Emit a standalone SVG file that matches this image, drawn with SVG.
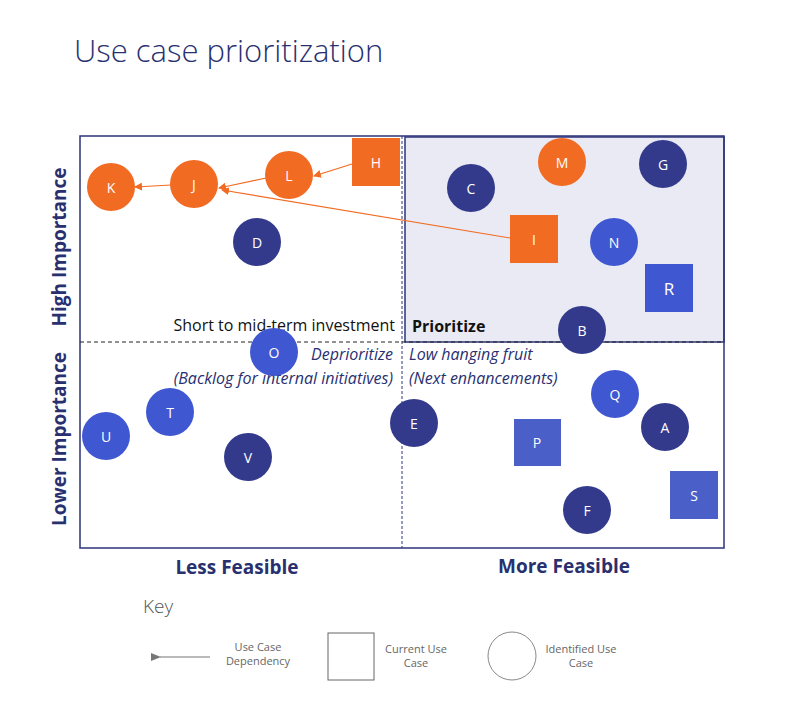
<svg xmlns="http://www.w3.org/2000/svg" width="787" height="720" viewBox="0 0 787 720">
<style>
text{font-family:"Segoe UI","Open Sans","Liberation Sans",sans-serif}
.n{fill:#fff;font-size:14px;text-anchor:middle;dominant-baseline:central}
.or{fill:#F26B23}.nv{fill:#333A8C}.bl{fill:#3F57D0}.sq{fill:#4A60C8}
.ax{font-weight:bold;font-size:19px;fill:#283070;text-anchor:middle}
.it{font-style:italic;font-size:16px;fill:#283070}
.k{font-size:11px;fill:#666;text-anchor:middle}
</style>
<defs>
<marker id="ao" markerWidth="8" markerHeight="8" refX="7" refY="4" orient="auto" markerUnits="userSpaceOnUse"><path d="M0,0 L8,4 L0,8z" fill="#F26B23"/></marker>
<marker id="ag" markerWidth="10" markerHeight="8" refX="1" refY="4" orient="auto" markerUnits="userSpaceOnUse"><path d="M10,0 L0,4 L10,8z" fill="#777"/></marker>
</defs>
<rect width="787" height="720" fill="#fff"/>
<text x="74" y="62" font-size="31" fill="#283070" style="font-family:'Segoe UI','Open Sans',sans-serif;font-weight:300">Use case prioritization</text>
<rect x="405" y="137" width="319" height="205" fill="#E9EAF3" stroke="#2E3579" stroke-width="1.5"/>
<rect x="80" y="136" width="644" height="412" fill="none" stroke="#2E3579" stroke-width="1.5"/>
<line x1="402" y1="136" x2="402" y2="548" stroke="#2E3579" stroke-dasharray="3,2"/>
<line x1="80" y1="342" x2="724" y2="342" stroke="#222" stroke-dasharray="4,3"/>
<text x="395" y="331" font-size="16" fill="#111" text-anchor="end">Short to mid-term investment</text>
<text x="412" y="332" font-size="16" font-weight="bold" fill="#111">Prioritize</text>
<text class="it" x="393" y="360" text-anchor="end">Deprioritize</text>
<text class="it" x="393" y="384" text-anchor="end">(Backlog for internal initiatives)</text>
<text class="it" x="409" y="360">Low hanging fruit</text>
<text class="it" x="409" y="384">(Next enhancements)</text>
<text class="ax" x="237" y="574">Less Feasible</text>
<text class="ax" x="564" y="573">More Feasible</text>
<text class="ax" transform="translate(66,247) rotate(-90)">High Importance</text>
<text class="ax" transform="translate(66,439) rotate(-90)">Lower Importance</text>
<g id="connectors" stroke="#F26B23" stroke-width="1.2" fill="none">
<line x1="352" y1="164" x2="314" y2="176" marker-end="url(#ao)"/>
<line x1="266" y1="178" x2="219" y2="188" marker-end="url(#ao)"/>
<line x1="171" y1="185" x2="135" y2="187" marker-end="url(#ao)"/>
<line x1="510" y1="238" x2="222" y2="190" marker-end="url(#ao)"/>
</g>
<g id="K"><circle cx="111" cy="187" r="24" class="or"/><text class="n" x="111" y="187">K</text></g>
<g id="J"><circle cx="194" cy="184" r="24" class="or"/><text class="n" x="194" y="184">J</text></g>
<g id="L"><circle cx="289" cy="175" r="24" class="or"/><text class="n" x="289" y="175">L</text></g>
<g id="H"><rect x="352" y="138" width="48" height="48" class="or"/><text class="n" x="376" y="162">H</text></g>
<g id="D"><circle cx="257" cy="242" r="24" class="nv"/><text class="n" x="257" y="242">D</text></g>
<g id="C"><circle cx="471" cy="188" r="24" class="nv"/><text class="n" x="471" y="188">C</text></g>
<g id="M"><circle cx="562" cy="162" r="24" class="or"/><text class="n" x="562" y="162">M</text></g>
<g id="G"><circle cx="663" cy="164" r="24" class="nv"/><text class="n" x="663" y="164">G</text></g>
<g id="I"><rect x="510" y="215" width="48" height="48" class="or"/><text class="n" x="534" y="239">I</text></g>
<g id="N"><circle cx="614" cy="242" r="24" class="bl"/><text class="n" x="614" y="242">N</text></g>
<g id="R"><rect x="645" y="264" width="48" height="48" class="bl"/><text class="n" x="669" y="288" style="font-size:17px">R</text></g>
<g id="B"><circle cx="582" cy="330" r="24" class="nv"/><text class="n" x="582" y="330">B</text></g>
<g id="O"><circle cx="274" cy="352" r="24" class="bl"/><text class="n" x="274" y="352">O</text></g>
<g id="T"><circle cx="170" cy="412" r="24" class="bl"/><text class="n" x="170" y="412">T</text></g>
<g id="U"><circle cx="106" cy="436" r="24" class="bl"/><text class="n" x="106" y="436">U</text></g>
<g id="V"><circle cx="248" cy="457" r="24" class="nv"/><text class="n" x="248" y="457">V</text></g>
<g id="E"><circle cx="414" cy="423" r="24" class="nv"/><text class="n" x="414" y="423">E</text></g>
<g id="P"><rect x="514" y="419" width="47" height="47" class="sq"/><text class="n" x="537" y="442">P</text></g>
<g id="Q"><circle cx="615" cy="394" r="24" class="bl"/><text class="n" x="615" y="394">Q</text></g>
<g id="A"><circle cx="665" cy="427" r="24" class="nv"/><text class="n" x="665" y="427">A</text></g>
<g id="S"><rect x="670" y="471" width="48" height="48" class="sq"/><text class="n" x="694" y="495">S</text></g>
<g id="F"><circle cx="587" cy="510" r="24" class="nv"/><text class="n" x="587" y="510">F</text></g>
<g id="key">
<text x="143" y="613" font-size="19" fill="#555" style="font-weight:300">Key</text>
<line x1="210" y1="657" x2="160" y2="657" stroke="#777" stroke-width="1.2" marker-end="url(#ag)"/>
<text class="k" x="258" y="651">Use Case</text><text class="k" x="258" y="665">Dependency</text>
<rect x="328" y="633" width="46" height="47" fill="none" stroke="#666"/>
<text class="k" x="416" y="653">Current Use</text><text class="k" x="416" y="667">Case</text>
<circle cx="512" cy="656" r="24" fill="none" stroke="#888"/>
<text class="k" x="581" y="653">Identified Use</text><text class="k" x="581" y="667">Case</text>
</g>
</svg>
